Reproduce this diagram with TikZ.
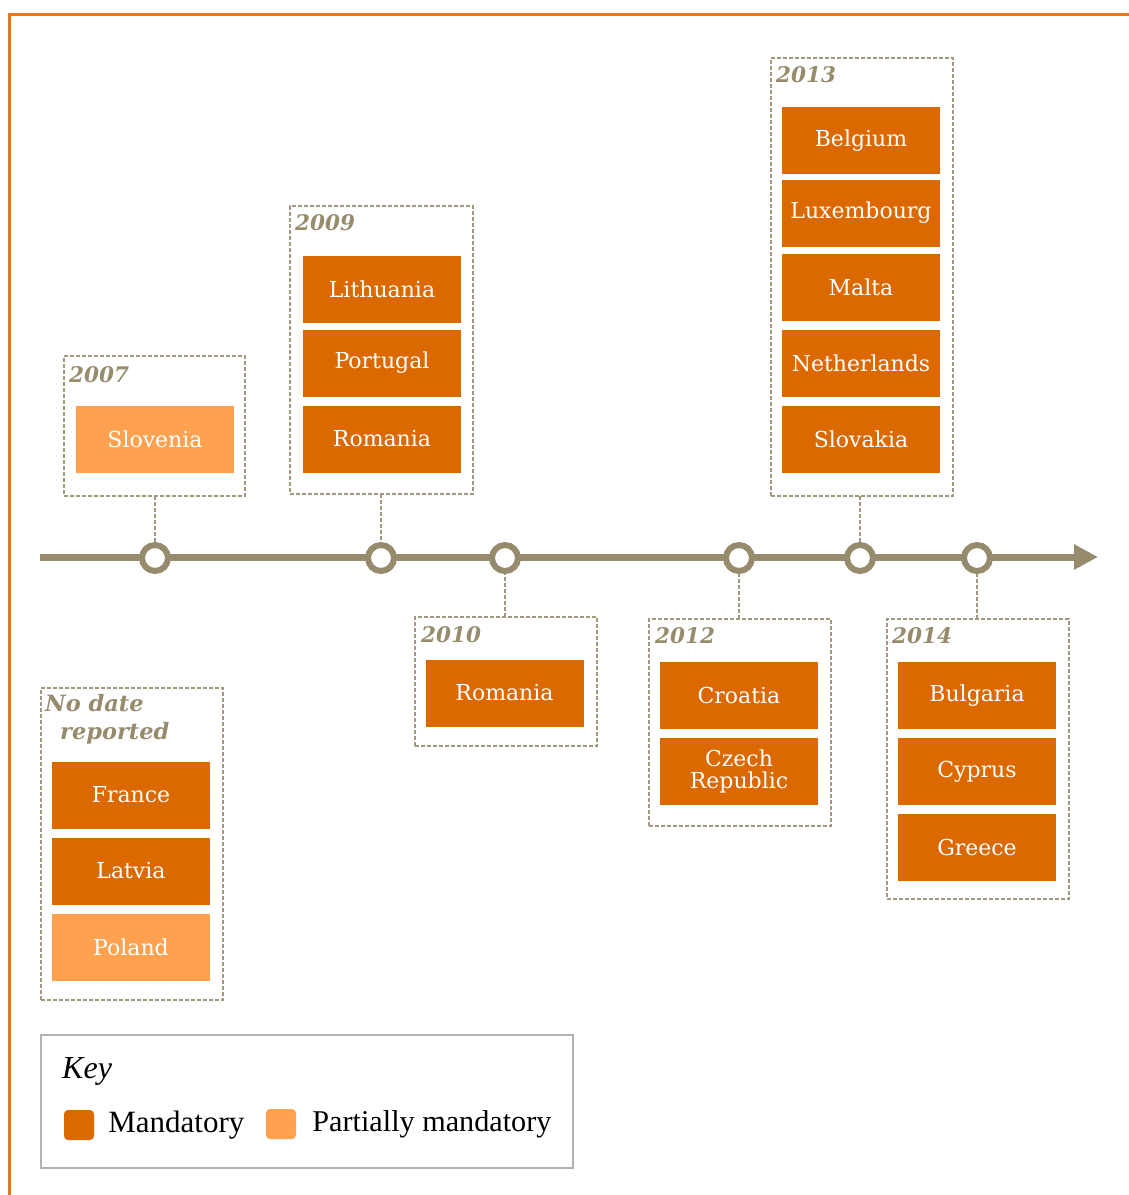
\documentclass[tikz,border=0pt]{standalone}
\usepackage{fontspec}
\setmainfont{DejaVu Serif}
\newfontfamily\keyfont{Liberation Serif}
\usepackage{tikz}
\usetikzlibrary{positioning,arrows.meta}
\definecolor{mand}{HTML}{DC6900}
\definecolor{part}{HTML}{FFA14F}
\definecolor{line}{HTML}{968C6D}
\definecolor{frame}{HTML}{A0987F}
\definecolor{border}{HTML}{E8761A}
\tikzstyle{yr} = [draw=frame, line width=1.6pt, dash pattern=on 4pt off 2pt, inner sep=0pt, outer sep=0pt]
\tikzstyle{cty} = [fill=mand, text=white, inner sep=0pt, minimum width=158pt, minimum height=67pt, align=center, font=\fontsize{22}{24}\selectfont]

\begin{document}
\begin{tikzpicture}[x=1pt,y=-1pt]
\tikzstyle{pcty} = [cty, fill=part]
\tikzstyle{lbl} = [anchor=north west, inner sep=0pt, text=line, font=\fontsize{21.5}{22}\selectfont\bfseries\itshape]
\tikzstyle{dot} = [circle, draw=line, line width=6pt, fill=white, minimum size=26pt, inner sep=0pt]
\useasboundingbox (0,0) rectangle (1129,1195);
\draw[border, line width=3pt] (9,1195) -- (9,14) -- (1129,14);

% year boxes
\node[yr, minimum width=181pt, minimum height=140pt] (y2007) at (154.5,426) {};
\node[yr, minimum width=183pt, minimum height=288pt] (y2009) at (381.5,350) {};
\node[yr, minimum width=182pt, minimum height=129pt] (y2010) at (506,681.5) {};
\node[yr, minimum width=182pt, minimum height=207pt] (y2012) at (740,722.5) {};
\node[yr, minimum width=182pt, minimum height=438pt] (y2013) at (862,277) {};
\node[yr, minimum width=182pt, minimum height=280pt] (y2014) at (978,759) {};
\node[yr, minimum width=182pt, minimum height=312pt] (nodate) at (132,844) {};

\node[lbl] at (69,366) {2007};
\node[lbl] at (295,214) {2009};
\node[lbl] at (421,626) {2010};
\node[lbl] at (655,627) {2012};
\node[lbl] at (776,66) {2013};
\node[lbl] at (892,627) {2014};
\node[lbl, align=left, font=\fontsize{22.5}{28}\selectfont\bfseries\itshape] at (45,694) {No date\\\hspace*{15pt}reported};

% countries
\node[pcty] (slo) at (155,439) {Slovenia};
\node[cty] (lit) at (382,289) {Lithuania};
\node[cty] (por) at (382,363) {Portugal};
\node[cty] (rom) at (382,439) {Romania};
\node[cty] (rom2) at (504.5,693) {Romania};
\node[cty] (cro) at (739,695) {Croatia};
\node[cty, font=\fontsize{22}{22}\selectfont] (cze) at (739,771) {Czech\\Republic};
\node[cty] (bel) at (861,140.5) {Belgium};
\node[cty] (lux) at (861,213) {Luxembourg};
\node[cty] (mal) at (861,287) {Malta};
\node[cty] (net) at (861,363) {Netherlands};
\node[cty] (svk) at (861,439) {Slovakia};
\node[cty] (bul) at (977,695.5) {Bulgaria};
\node[cty] (cyp) at (977,771.5) {Cyprus};
\node[cty] (gre) at (977,847.5) {Greece};
\node[cty] (fra) at (131,795) {France};
\node[cty] (lat) at (131,871) {Latvia};
\node[pcty] (pol) at (131,947) {Poland};

% timeline
\coordinate (t0) at (40,557);
\coordinate (t1) at (1098,557);
\draw[line, line width=7pt, -{Triangle[length=24pt,width=24pt]}] (t0) -- (t1);
\node[dot] (c1) at (155,558) {};
\node[dot] (c2) at (381,558) {};
\node[dot] (c3) at (505,558) {};
\node[dot] (c4) at (739,558) {};
\node[dot] (c5) at (860,558) {};
\node[dot] (c6) at (977,558) {};
\draw[frame, line width=1.6pt, dash pattern=on 4pt off 2pt] (y2007.south -| c1) -- (c1);
\draw[frame, line width=1.6pt, dash pattern=on 4pt off 2pt] (y2009.south -| c2) -- (c2);
\draw[frame, line width=1.6pt, dash pattern=on 4pt off 2pt] (y2010.north -| c3) -- (c3);
\draw[frame, line width=1.6pt, dash pattern=on 4pt off 2pt] (y2012.north -| c4) -- (c4);
\draw[frame, line width=1.6pt, dash pattern=on 4pt off 2pt] (y2013.south -| c5) -- (c5);
\draw[frame, line width=1.6pt, dash pattern=on 4pt off 2pt] (y2014.north -| c6) -- (c6);

% key
\node[draw=black!30, line width=2pt, minimum width=532pt, minimum height=133pt, inner sep=0pt] (key) at (307,1101.5) {};
\node[anchor=west, inner sep=0pt, font=\keyfont\fontsize{32}{34}\selectfont\itshape] (keyt) at (62,1071) {Key};
\node[fill=mand, rounded corners=4pt, minimum size=30pt, inner sep=0pt] (km) at (79,1125) {};
\node[right=14pt of km, inner sep=0pt, font=\keyfont\fontsize{31}{34}\selectfont] (kmt) {Mandatory};
\node[fill=part, rounded corners=4pt, minimum size=30pt, inner sep=0pt] (kp) at (281,1124) {};
\node[right=16pt of kp, inner sep=0pt, font=\keyfont\fontsize{30.2}{34}\selectfont] (kpt) {Partially mandatory};
\end{tikzpicture}
\end{document}
